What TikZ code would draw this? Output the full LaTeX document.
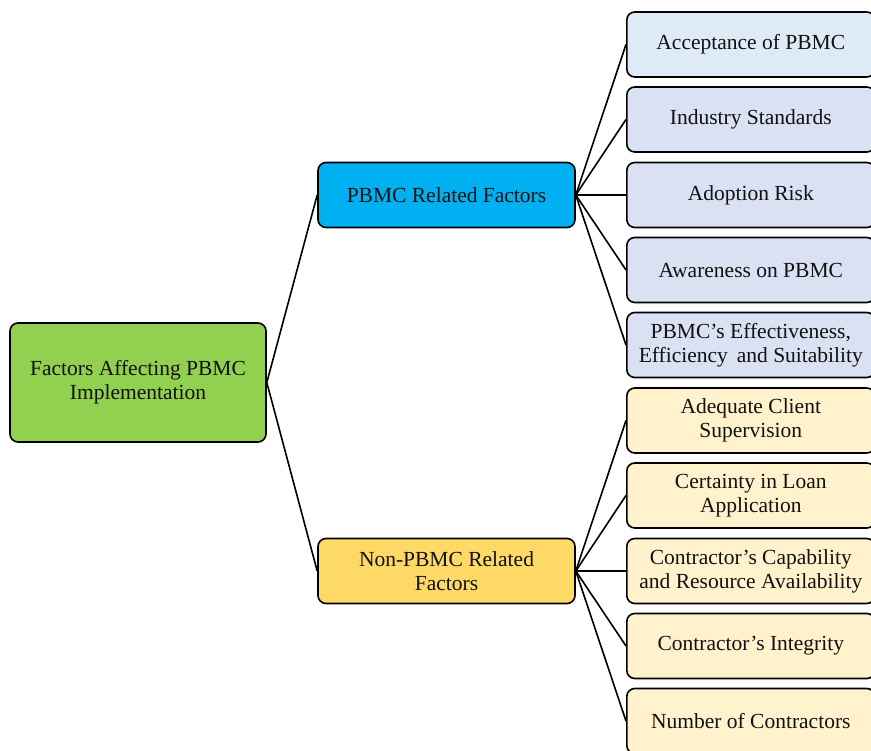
\documentclass[tikz,border=0pt]{standalone}
\usepackage{fontspec}
\setmainfont{Liberation Serif}
\definecolor{rootgreen}{HTML}{92D050}
\definecolor{midblue}{HTML}{00B0F0}
\definecolor{midyellow}{HTML}{FFD966}
\definecolor{leafblueA}{HTML}{DEEBF7}
\definecolor{leafblue}{HTML}{D9E1F2}
\definecolor{leafyellow}{HTML}{FFF2CC}
\definecolor{txt}{HTML}{111111}
\tikzset{
  box/.style={draw=black, line width=1.6pt, rounded corners=8pt, align=center,
    inner sep=0pt, text=txt, font=\fontsize{21.5}{24}\selectfont},
  rootbox/.style={box, fill=rootgreen, minimum width=256pt, minimum height=119pt},
  midbox/.style={box, minimum width=257pt, minimum height=65pt},
  leafbox/.style={box, minimum width=248pt, minimum height=65pt, anchor=west},
  conn/.style={line width=1.6pt, draw=black}
}
\begin{document}
\begin{tikzpicture}[x=1pt,y=-1pt]
\useasboundingbox (0,0) rectangle (871,751);
\fill[white] (0,0) rectangle (871,751);
\node[rootbox] (root) at (138,382.5) {Factors Affecting PBMC\\Implementation};
\node[midbox, fill=midblue] (pb) at (446.5,195) {PBMC Related Factors};
\node[midbox, fill=midyellow] (npb) at (446.5,571) {Non-PBMC Related\\Factors};
\node[leafbox, fill=leafblueA] (l1) at (626,44.5) {Acceptance of PBMC};
\node[leafbox, fill=leafblue] (l2) at (626,119.5) {Industry Standards};
\node[leafbox, fill=leafblue] (l3) at (626,195) {Adoption Risk};
\node[leafbox, fill=leafblue] (l4) at (626,270) {Awareness on PBMC};
\node[leafbox, fill=leafblue] (l5) at (626,345) {PBMC’s Effectiveness,\\Efficiency\, and Suitability};
\node[leafbox, fill=leafyellow] (l6) at (626,420.5) {Adequate Client\\Supervision};
\node[leafbox, fill=leafyellow] (l7) at (626,495.5) {Certainty in Loan\\Application};
\node[leafbox, fill=leafyellow] (l8) at (626,571) {Contractor{\char"27}s Capability\\and Resource Availability};
\node[leafbox, fill=leafyellow] (l9) at (626,646) {Contractor’s Integrity};
\node[leafbox, fill=leafyellow] (l10) at (626,721) {Number of Contractors};
\draw[conn] (root.east) -- (pb.west);
\draw[conn] (root.east) -- (npb.west);
\foreach \i in {1,...,5} {\draw[conn] (pb.east) -- (l\i.west);}
\foreach \i in {6,...,10} {\draw[conn] (npb.east) -- (l\i.west);}
\end{tikzpicture}
\end{document}
